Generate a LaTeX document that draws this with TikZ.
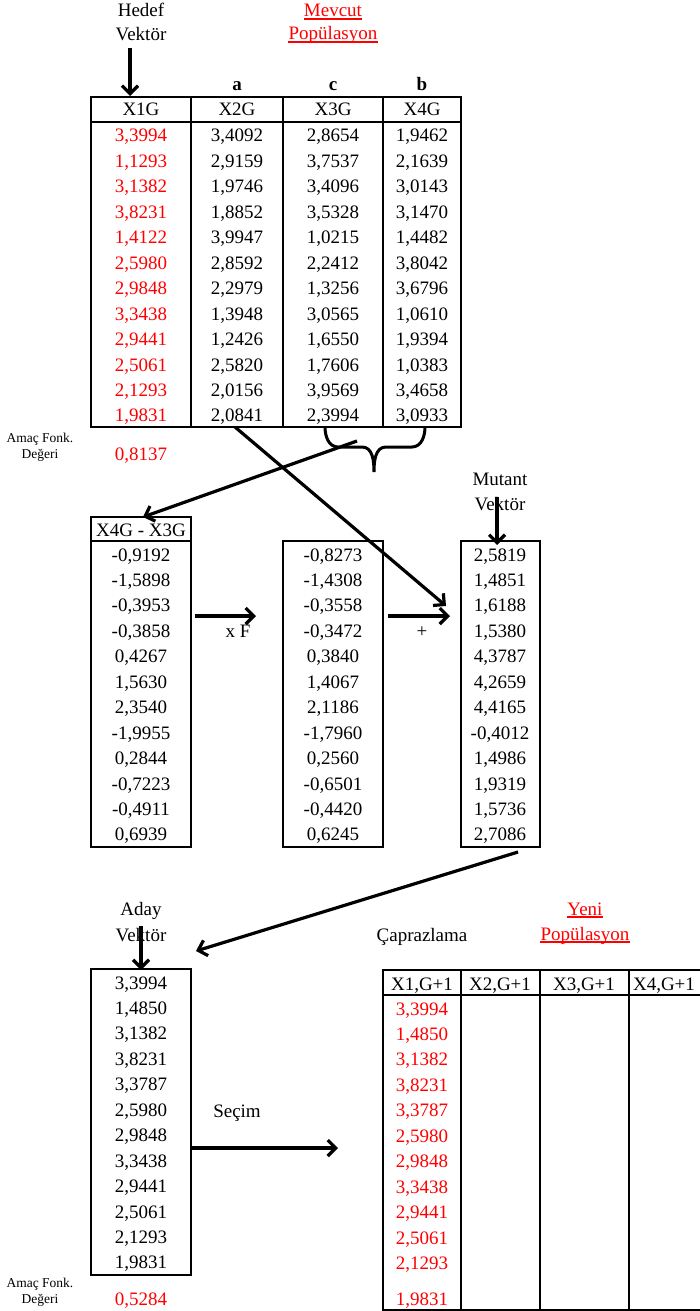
\documentclass[tikz,border=0pt]{standalone}
\usepackage{fontspec}
\setmainfont{Liberation Serif}
\usetikzlibrary{arrows.meta}
\begin{document}
\begin{tikzpicture}[x=1pt,y=-1pt,
  every node/.style={inner sep=0pt, anchor=base, font=\fontsize{19}{22}\selectfont},
  smalltxt/.style={font=\fontsize{13.5}{16}\selectfont},
  boldtxt/.style={font=\fontsize{19}{22}\selectfont\bfseries},
  redtxt/.style={text=red},
  boxline/.style={line width=2.4pt},
  arr/.style={line width=3.2pt, -{Straight Barb[length=8pt,width=16pt,line width=3.2pt]}},
  ulined/.style={red, line width=1.4pt}]
\useasboundingbox (0,0) rectangle (700,1311);

% ---------- titles ----------
\node (hedef1) at (141,17) {Hedef};
\node (hedef2) at (141,41) {Vektör};
\node[redtxt] (mev1) at (333,17) {Mevcut\ };
\node[redtxt] (mev2) at (333,40) {Popülasyon};
\draw[ulined] ([yshift=-2pt]mev1.base west) -- ([yshift=-2pt]mev1.base east);
\draw[ulined] ([yshift=-2pt]mev2.base west) -- ([yshift=-2pt]mev2.base east);
\coordinate (hedefA) at (130,48);
\coordinate (hedefB) at (130,96);
\draw[arr] (hedefA) -- (hedefB);

\node[boldtxt] (la) at (237,91) {a};
\node[boldtxt] (lc) at (333,91) {c};
\node[boldtxt] (lb) at (422,91) {b};

% ---------- top table ----------
\draw[boxline] (91,97) rectangle (461,427);
\draw[boxline] (91,122) -- (461,122);
\foreach \xx in {191,283,383} \draw[boxline] (\xx,97) -- (\xx,427);
\node (h1) at (141,116) {X1G};
\node (h2) at (237,116) {X2G};
\node (h3) at (333,116) {X3G};
\node (h4) at (422,116) {X4G};

\foreach \v [count=\i] in {{3,3994},{1,1293},{3,1382},{3,8231},{1,4122},{2,5980},{2,9848},{3,3438},{2,9441},{2,5061},{2,1293},{1,9831}}
  \node[redtxt] (ta\i) at (141,{142+(\i-1)*25.45}) {\v};
\foreach \v [count=\i] in {{3,4092},{2,9159},{1,9746},{1,8852},{3,9947},{2,8592},{2,2979},{1,3948},{1,2426},{2,5820},{2,0156},{2,0841}}
  \node (tb\i) at (237,{142+(\i-1)*25.45}) {\v};
\foreach \v [count=\i] in {{2,8654},{3,7537},{3,4096},{3,5328},{1,0215},{2,2412},{1,3256},{3,0565},{1,6550},{1,7606},{3,9569},{2,3994}}
  \node (tc\i) at (333,{142+(\i-1)*25.45}) {\v};
\foreach \v [count=\i] in {{1,9462},{2,1639},{3,0143},{3,1470},{1,4482},{3,8042},{3,6796},{1,0610},{1,9394},{1,0383},{3,4658},{3,0933}}
  \node (td\i) at (422,{142+(\i-1)*25.45}) {\v};

\node[smalltxt] (amac1) at (40,442) {Amaç Fonk.};
\node[smalltxt] (deg1) at (40,458) {Değeri};
\node[redtxt] (af1) at (141,460) {0,8137};

% brace
\coordinate (brL) at (325,427);
\coordinate (brR) at (425,427);
\coordinate (brT) at (374,472);
\draw[line width=3pt, line join=round]
  (brL) to[out=-90,in=180] (338,447) -- (362,447) to[out=0,in=90] (brT)
  (brT) to[out=90,in=180] (386,447) -- (412,447) to[out=0,in=-90] (brR);

% ---------- second row ----------
\draw[boxline] (91,517) rectangle (191,847);
\draw[boxline] (91,541) -- (191,541);
\node (dh) at (141,536) {X4G - X3G};
\foreach \v [count=\i] in {{-0,9192},{-1,5898},{-0,3953},{-0,3858},{0,4267},{1,5630},{2,3540},{-1,9955},{0,2844},{-0,7223},{-0,4911},{0,6939}}
  \node (d\i) at (141,{561+(\i-1)*25.45}) {\v};

\draw[boxline] (283,541) rectangle (383,847);
\foreach \v [count=\i] in {{-0,8273},{-1,4308},{-0,3558},{-0,3472},{0,3840},{1,4067},{2,1186},{-1,7960},{0,2560},{-0,6501},{-0,4420},{0,6245}}
  \node (m\i) at (333,{561+(\i-1)*25.45}) {\v};

\draw[boxline] (461,541) rectangle (540,847);
\foreach \v [count=\i] in {{2,5819},{1,4851},{1,6188},{1,5380},{4,3787},{4,2659},{4,4165},{-0,4012},{1,4986},{1,9319},{1,5736},{2,7086}}
  \node (u\i) at (500,{561+(\i-1)*25.45}) {\v};

\node (mut1) at (500,485) {Mutant};
\node (mut2) at (500,510) {Vektör};
\coordinate (mutA) at (497,497);
\coordinate (mutB) at (497,545);
\draw[arr] (mutA) -- (mutB);

\node (xf) at (238,637) {x F};
\node (plus) at (422,637) {+};
\coordinate (xfA) at (195,616);
\coordinate (xfB) at (256,616);
\draw[arr] (xfA) -- (xfB);
\coordinate (plA) at (388,616);
\coordinate (plB) at (450,616);
\draw[arr] (plA) -- (plB);

% crossing arrows
\coordinate (brS) at (357,441);
\coordinate (dTop) at (143,517);
\draw[arr] (brS) -- (dTop);
\coordinate (bS) at (235,427);
\coordinate (uIn) at (446,606);
\draw[arr] (bS) -- (uIn);

\coordinate (uS) at (518,852);
\coordinate (adIn) at (196,951);
\draw[arr] (uS) -- (adIn);

% ---------- bottom ----------
\node (ad1) at (141,915) {Aday};
\node (ad2) at (141,941) {Vektör};
\coordinate (adA) at (141,926);
\coordinate (adB) at (141,970);
\draw[arr] (adA) -- (adB);

\draw[boxline] (91,969) rectangle (191,1275);
\foreach \v [count=\i] in {{3,3994},{1,4850},{3,1382},{3,8231},{3,3787},{2,5980},{2,9848},{3,3438},{2,9441},{2,5061},{2,1293},{1,9831}}
  \node (a\i) at (141,{989+(\i-1)*25.45}) {\v};

\node[smalltxt] (amac2) at (40,1287) {Amaç Fonk.};
\node[smalltxt] (deg2) at (40,1303) {Değeri};
\node[redtxt] (af2) at (141,1305) {0,5284};

\node (sec) at (237,1117) {Seçim};
\coordinate (secA) at (191,1148);
\coordinate (secB) at (338,1148);
\draw[arr] (secA) -- (secB);

\node (cap) at (422,941) {Çaprazlama};
\node[redtxt] (yeni1) at (585,915) {Yeni\ };
\node[redtxt] (yeni2) at (585,940) {Popülasyon};
\draw[ulined] ([yshift=-2pt]yeni1.base west) -- ([yshift=-2pt]yeni1.base east);
\draw[ulined] ([yshift=-2pt]yeni2.base west) -- ([yshift=-2pt]yeni2.base east);

\draw[boxline] (702,970) -- (383,970) -- (383,1310) -- (702,1310);
\draw[boxline] (383,995) -- (702,995);
\foreach \xx in {461,540,629} \draw[boxline] (\xx,970) -- (\xx,1310);
\node (n1) at (422,990) {X1,G+1};
\node (n2) at (500,990) {X2,G+1};
\node (n3) at (584,990) {X3,G+1};
\node (n4) at (664,990) {X4,G+1};
\foreach \v [count=\i] in {{3,3994},{1,4850},{3,1382},{3,8231},{3,3787},{2,5980},{2,9848},{3,3438},{2,9441},{2,5061},{2,1293}}
  \node[redtxt] (y\i) at (422,{1015+(\i-1)*25.45}) {\v};
\node[redtxt] (y12) at (422,1305) {1,9831};
\end{tikzpicture}
\end{document}
